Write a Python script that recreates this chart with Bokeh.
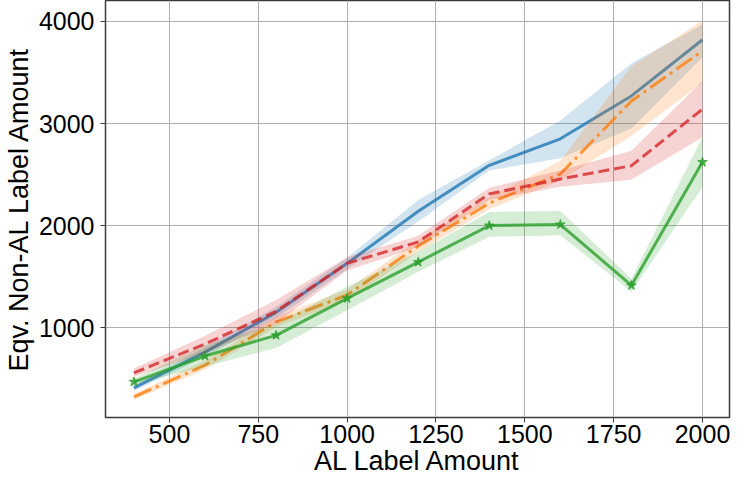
from bokeh.plotting import figure
from bokeh.models import Range1d, FixedTicker
from bokeh.embed import file_html
from bokeh.resources import INLINE

x_vals = [400, 600, 800, 1000, 1200, 1400, 1600, 1800, 2000]

blue_mean = [410, 760, 1150, 1630, 2140, 2590, 2850, 3270, 3820]
blue_lo = [380, 715, 1095, 1575, 2040, 2540, 2660, 2950, 3650]
blue_hi = [440, 805, 1205, 1685, 2250, 2640, 3030, 3590, 3970]

orange_mean = [322, 632, 1055, 1320, 1800, 2220, 2505, 3220, 3711]
orange_lo = [295, 590, 1005, 1265, 1740, 2160, 2440, 2880, 3400]
orange_hi = [350, 675, 1105, 1375, 1860, 2280, 2635, 3560, 4010]

red_mean = [557, 840, 1160, 1630, 1840, 2310, 2456, 2587, 3141]
red_lo = [520, 750, 1040, 1560, 1790, 2250, 2380, 2450, 2865]
red_hi = [600, 920, 1270, 1690, 1900, 2370, 2540, 2733, 3417]

green_mean = [469, 722, 925, 1287, 1642, 2000, 2010, 1414, 2622]
green_lo = [440, 620, 800, 1170, 1547, 1890, 1906, 1352, 2378]
green_hi = [500, 830, 1040, 1400, 1742, 2134, 2144, 1479, 2867]

x_ticks = [500, 750, 1000, 1250, 1500, 1750, 2000]
y_ticks = [1000, 2000, 3000, 4000]

FONT = "Liberation Sans"

p = figure(width=731, height=478, output_backend="svg", toolbar_location=None,
           x_range=Range1d(320, 2076), y_range=Range1d(120, 4205),
           min_border_top=0, min_border_right=2, min_border_left=10, min_border_bottom=10)

p.background_fill_color = "white"
p.border_fill_color = "white"
p.outline_line_color = "#3a3a3a"
p.outline_line_width = 1.5

C_BLUE = "#1f77b4"
C_ORANGE = "#ff7f0e"
C_GREEN = "#2ca02c"
C_RED = "#d62728"

p.varea(x=x_vals, y1=blue_lo, y2=blue_hi, fill_color=C_BLUE, fill_alpha=0.2)
p.line(x_vals, blue_mean, line_color=C_BLUE, line_alpha=0.8, line_width=3)

p.varea(x=x_vals, y1=orange_lo, y2=orange_hi, fill_color=C_ORANGE, fill_alpha=0.2)
p.line(x_vals, orange_mean, line_color=C_ORANGE, line_alpha=0.8, line_width=3,
       line_dash="19 5 3 5")

p.varea(x=x_vals, y1=green_lo, y2=green_hi, fill_color=C_GREEN, fill_alpha=0.2)
p.line(x_vals, green_mean, line_color=C_GREEN, line_alpha=0.8, line_width=3)
p.scatter(x_vals, green_mean, marker="star", size=10, fill_color=C_GREEN,
          line_color=C_GREEN, alpha=0.8)

p.varea(x=x_vals, y1=red_lo, y2=red_hi, fill_color=C_RED, fill_alpha=0.2)
p.line(x_vals, red_mean, line_color=C_RED, line_alpha=0.8, line_width=3,
       line_dash="11 5")

p.xaxis.ticker = FixedTicker(ticks=x_ticks)
p.yaxis.ticker = FixedTicker(ticks=y_ticks)
p.xaxis.axis_label = "AL Label Amount"
p.yaxis.axis_label = "Eqv. Non-AL Label Amount"

for ax in (p.xaxis[0], p.yaxis[0]):
    ax.axis_label_text_font = FONT
    ax.axis_label_text_font_size = "27px"
    ax.axis_label_text_font_style = "normal"
    ax.axis_label_text_color = "black"
    ax.major_label_text_font = FONT
    ax.major_label_text_font_size = "25px"
    ax.major_label_text_color = "black"
    ax.axis_line_color = None
    ax.major_tick_line_color = "#3a3a3a"
    ax.major_tick_line_width = 1
    ax.major_tick_out = 5
    ax.major_tick_in = 0
    ax.minor_tick_line_color = None

p.xaxis[0].major_label_standoff = 2
p.xaxis[0].axis_label_standoff = 0
p.yaxis[0].major_label_standoff = 6
p.yaxis[0].axis_label_standoff = 2

p.xgrid.grid_line_color = "#b0b0b0"
p.ygrid.grid_line_color = "#b0b0b0"
p.xgrid.grid_line_width = 1
p.ygrid.grid_line_width = 1

open("out.html", "w").write(file_html(p, INLINE))
